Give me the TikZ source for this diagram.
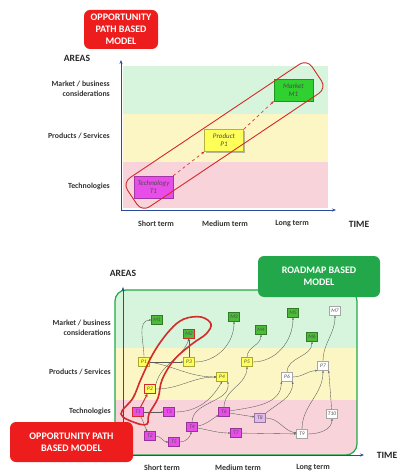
\documentclass[tikz,border=0pt]{standalone}
\usepackage{fontspec}
\setmainfont{Carlito}
\usetikzlibrary{arrows.meta, positioning, shadows}

\definecolor{bandgreen}{HTML}{D6F5DC}
\definecolor{bandyellow}{HTML}{FBF6C4}
\definecolor{bandpink}{HTML}{F8D3DA}
\definecolor{axisblue}{HTML}{2E4A9A}
\definecolor{mktgreen}{HTML}{4DBB3A}
\definecolor{brightgreen}{HTML}{2FD02F}
\definecolor{prodyellow}{HTML}{FFFF5A}
\definecolor{techpink}{HTML}{E94DE9}
\definecolor{lilac}{HTML}{E2B8F0}
\definecolor{boxred}{HTML}{EE1D1D}
\definecolor{boxgreen}{HTML}{22A84A}
\definecolor{linered}{HTML}{D42A2A}

\begin{document}
\begin{tikzpicture}[x=1pt, y=-1pt,
  lbl/.style = {anchor=east, align=right, inner sep=0pt, font=\fontsize{7.8}{10}\selectfont\bfseries, text=black!80},
  term/.style = {inner sep=0pt, font=\fontsize{8}{9}\selectfont\bfseries, text=black!80},
  title/.style = {inner sep=0pt, font=\fontsize{9.6}{11}\selectfont\bfseries, text=black!85},
  badge/.style = {fill=#1, rounded corners=6pt, text=white, align=center, inner sep=0pt, font=\fontsize{10}{12}\selectfont\bfseries},
  axis/.style = {draw=axisblue, thick, -{Stealth[length=4pt, width=3pt]}},
  card/.style = {draw=#1!70!black, fill=#1, minimum width=39pt, minimum height=22pt, inner sep=0pt, align=center,
    font=\fontsize{7}{8}\selectfont\itshape, text=black!70,
    drop shadow={shadow xshift=1.2pt, shadow yshift=-1.2pt, fill=black!55}},
  item/.style = {draw=#1!65!black, fill=#1, minimum width=11pt, minimum height=9pt, inner sep=0pt,
    font=\fontsize{5.4}{6}\selectfont\itshape, text=black!70,
    drop shadow={shadow xshift=0.7pt, shadow yshift=-0.7pt, fill=black!50}},
  flag/.style = {draw=linered, line width=1.6pt},
  link/.style = {draw=black!65, line width=0.35pt, -{Stealth[length=2.2pt, width=1.8pt]}},
  path/.style = {draw=linered, line width=0.6pt, dashed, -{Stealth[length=3pt, width=2.5pt]}}
  ]
  \useasboundingbox (0,0) rectangle (396,473);

  % Opportunity path based model
  \fill[bandgreen] (123,66) rectangle (328,114);
  \fill[bandyellow] (123,114) rectangle (328,162);
  \fill[bandpink] (123,162) rectangle (328,208);
  \coordinate (o1) at (121,210);
  \coordinate (y1) at (121,60);
  \coordinate (x1) at (336,210);
  \draw[axis] (o1) -- (y1);
  \draw[axis] (o1) -- (x1);

  \node[badge=boxred, minimum width=74pt, minimum height=39pt] (opp1) at (121,29.5) {OPPORTUNITY\\PATH BASED\\MODEL};
  \node[title] (areas1) at (77,58) {AREAS};
  \node[lbl] (mkt1) at (110,88.5) {Market / business\\considerations};
  \node[lbl] (prod1) at (110,136) {Products / Services};
  \node[lbl] (tech1) at (110,186) {Technologies};
  \node[term] (short1) at (156,224) {Short term};
  \node[term] (medium1) at (225,224) {Medium term};
  \node[term] (long1) at (292,224) {Long term};
  \node[title] (time1) at (359,224.5) {TIME};

  \node[card=techpink] (tech) at (153.5,187) {Technology\\T1};
  \node[card=prodyellow] (prod) at (224,140.5) {Product\\P1};
  \node[card=brightgreen] (mkt) at (293.5,90) {Market\\M1};
  \draw[path] (tech.north east) -- (prod.south west);
  \draw[path] (prod.north east) -- (mkt.south west);

  \node[draw=linered, line width=0.9pt, rounded corners=9pt, rotate=33.8,
    minimum width=222pt, minimum height=35pt] (loop1) at (224.5,135.5) {};

  % Roadmap based model
  \begin{scope}
    \clip[rounded corners=11pt] (115,290) rectangle (357,455);
    \fill[bandgreen] (115,290) rectangle (357,348);
    \fill[bandyellow] (115,348) rectangle (357,400);
    \fill[bandpink] (115,400) rectangle (357,455);
  \end{scope}
  \draw[boxgreen, line width=1.2pt, rounded corners=11pt] (115,290) rectangle (357,455);
  \coordinate (o2) at (123,455);
  \coordinate (y2) at (123,287);
  \coordinate (x2) at (364,455);
  \draw[axis] (o2) -- (y2);
  \draw[axis] (o2) -- (x2);

  \node[title] (areas2) at (123,273) {AREAS};
  \node[lbl] (mkt2) at (111,328) {Market / business\\considerations};
  \node[lbl] (prod2) at (111,372) {Products / Services};
  \node[lbl] (tech2) at (111,411) {Technologies};
  \node[term] (short2) at (162,468) {Short term};
  \node[term] (medium2) at (238,468) {Medium term};
  \node[term] (long2) at (313,468) {Long term};
  \node[title] (time2) at (387,455) {TIME};

  % markets
  \node[item=mktgreen] (M1) at (157,320) {M1};
  \node[item=mktgreen, draw=linered, line width=0.8pt] (M2) at (189,334) {M2};
  \node[item=mktgreen] (M3) at (234,317) {M3};
  \node[item=mktgreen] (M4) at (261,330) {M4};
  \node[item=mktgreen] (M5) at (293,313) {M5};
  \node[item=mktgreen] (M6) at (312,337) {M6};
  \node[item=white] (M7) at (335,311) {M7};
  % products
  \node[item=prodyellow] (P1) at (144,362) {P1};
  \node[item=prodyellow, draw=linered, line width=0.8pt] (P2) at (150,389) {P2};
  \node[item=prodyellow] (P3) at (189,362) {P3};
  \node[item=prodyellow] (P4) at (222,377) {P4};
  \node[item=prodyellow] (P5) at (247,362) {P5};
  \node[item=white] (P6) at (287,377) {P6};
  \node[item=white] (P7) at (323,366) {P7};
  % technologies
  \node[item=techpink, draw=linered, line width=0.8pt] (T1) at (138,412) {T1};
  \node[item=techpink] (T2) at (150,436) {T2};
  \node[item=techpink] (T3) at (169,412) {T3};
  \node[item=techpink] (T4) at (192,427) {T4};
  \node[item=techpink] (T5) at (174,442) {T5};
  \node[item=techpink] (T6) at (224,412) {T6};
  \node[item=techpink] (T7) at (236,433) {T7};
  \node[item=lilac] (T8) at (260,418) {T8};
  \node[item=white] (T9) at (302,434) {T9};
  \node[item=white] (T10) at (332,414) {T10};

  \draw[link] (P1) to[out=90, in=180] (M1);
  \draw[link] (P1) -- (P3);
  \draw[link] (P1.east) to[out=-10, in=180] (P4);
  \draw[link] (P2.north east) to[out=75, in=-110] (M2.south);
  \draw[link] (P3) -- (M2);
  \draw[link] (P3) to[out=0, in=-90] (M3);
  \draw[link] (P2) to[out=0, in=180] (P4.west);
  \draw[link] (T3) to[out=0, in=-120] (P4.south);
  \draw[link] (T4) to[out=90, in=-80] (P4.south east);
  \draw[link] (T6) to[out=90, in=-90] (P5);
  \draw[link] (P5) to[out=90, in=-90] (M4);
  \draw[link] (P5) to[out=0, in=-90] (M5);
  \draw[link] (P6) to[out=90, in=-90] (M6);
  \draw[link] (P6) to[out=0, in=180] (P7.south west);
  \draw[link] (P7) to[out=90, in=-90] (M7);
  \draw[link] (T6) to[out=10, in=-90] (P6.south west);
  \draw[link] (T8) to[out=40, in=-90] (P6.south east);
  \draw[link] (T6) to[out=-10, in=170] (T8);
  \draw[link] (T8) to[out=0, in=170] (T9);
  \draw[link] (T9) to[out=90, in=-90] (P7);
  \draw[link] (T9) to[out=0, in=-90] (T10);
  \draw[link] (T10) -- (P7.south east);
  \draw[link] (T1) -- (T3);
  \draw[link] (T1) to[out=-60, in=120] (T2);
  \draw[link] (T2) to[out=0, in=180] (T5);
  \draw[link] (T5) to[out=0, in=-100] (T4);
  \draw[link] (T4) to[out=10, in=-150] (T6);
  \draw[link] (T4) to[out=-10, in=180] (T7);
  \draw[link] (T7) -- (T9);
  \draw[draw=linered, line width=1pt, -{Stealth[length=3pt, width=3pt]}] (T1) -- (P2);

  % opportunity path inside the roadmap
  \draw[flag] plot[smooth cycle, tension=0.6] coordinates {(121,414) (133,398) (141,379) (154,352) (170,330) (184,319) (201,317) (211,324) (206,334) (192,344) (174,360) (162,380) (158,398) (149,414) (147,424) (136,423)};

  \node[badge=boxgreen, minimum width=122pt, minimum height=41pt] (road) at (319,276.5) {ROADMAP BASED\\MODEL};
  \node[badge=boxred, minimum width=123pt, minimum height=40pt] (opp2) at (71.5,442) {OPPORTUNITY PATH\\BASED MODEL};
\end{tikzpicture}
\end{document}
